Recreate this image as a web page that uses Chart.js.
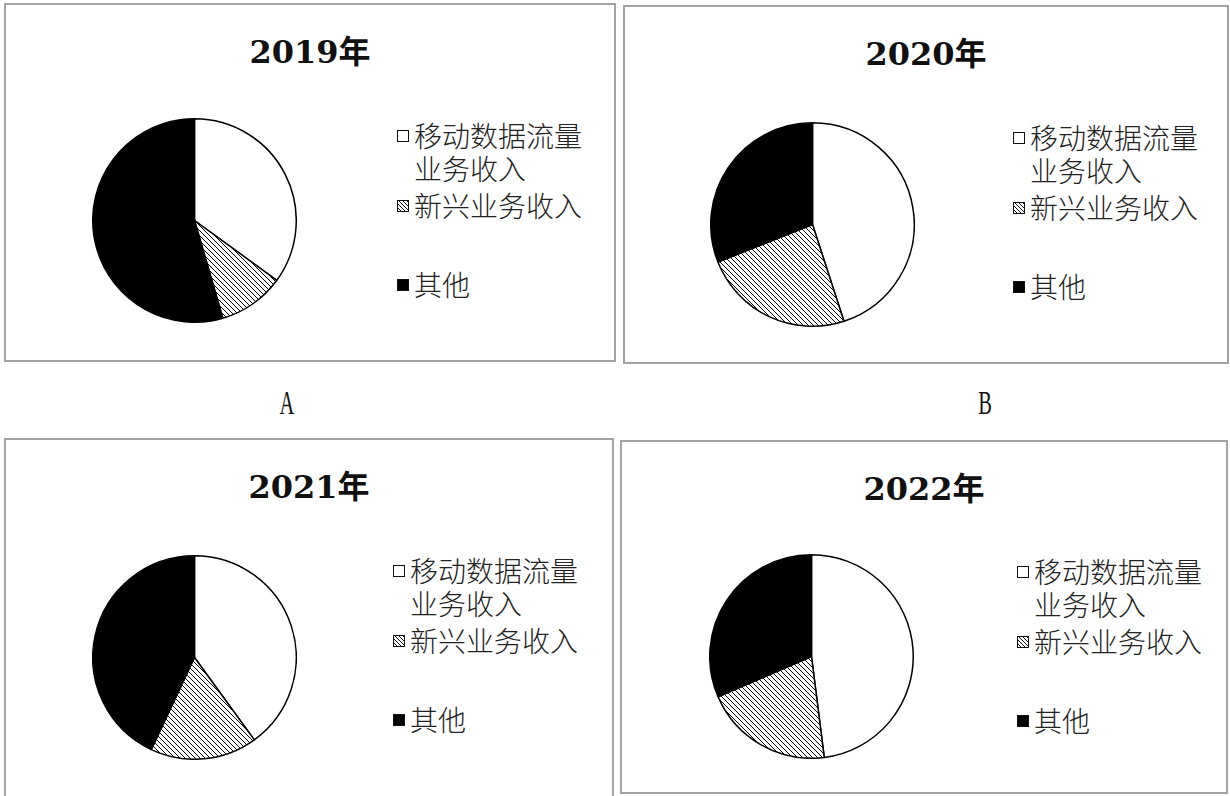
<!DOCTYPE html>
<html>
<head>
<meta charset="utf-8">
<script src="https://cdn.jsdelivr.net/npm/chart.js"></script>
<style>
  body {
    margin: 0;
    width: 1230px;
    height: 796px;
    overflow: hidden;
    position: relative;
    background: #fff;
    font-family: "Noto Sans CJK SC", sans-serif;
  }
  .panel {
    position: absolute;
    box-sizing: border-box;
    border: 2px solid #a3a3a3;
    background: #fff;
  }
  .title {
    position: absolute;
    left: 0;
    right: 0;
    text-align: center;
    font: bold 32px "DejaVu Serif", "Noto Sans CJK SC", serif;
    line-height: 40px;
    color: #111;
  }
  .pie {
    position: absolute;
    width: 205px;
    height: 205px;
  }
  .item {
    position: absolute;
    width: 172px;
    padding-left: 17px;
    font-size: 28px;
    font-weight: 300;
    line-height: 33px;
    color: #222;
  }
  .swatch {
    position: absolute;
    left: 0;
    top: 11px;
    width: 12px;
    height: 12px;
    box-sizing: border-box;
    border: 1.5px solid #111;
  }
  .tag {
    position: absolute;
    width: 40px;
    text-align: center;
    font: 33px "Liberation Serif", serif;
    line-height: 36px;
    transform: scaleX(0.62);
    color: #111;
  }
</style>
</head>
<body>
<script>
// data (percent of total)
const years = ["2019年", "2020年", "2021年", "2022年"];
const categories = ["移动数据流量业务收入", "新兴业务收入", "其他"];
const mobileData = [35, 45, 40, 48];
const emergingData = [10.5, 24, 17, 20.5];
const otherData = [54.5, 31, 43, 31.5];
const panelTags = ["A", "B"];

// layout of the four boxes
const panels = [
  { left: 4, top: 3, width: 612, height: 359, cx: 194, cy: 220, lx: 393, ly: 0 },
  { left: 623, top: 5, width: 606, height: 359, cx: 812, cy: 224, lx: 390, ly: 0 },
  { left: 4, top: 438, width: 610, height: 380, cx: 194, cy: 657, lx: 389, ly: 0 },
  { left: 620, top: 440, width: 608, height: 354, cx: 811, cy: 656, lx: 397, ly: -1 },
];

const makeHatch = () => {
  const s = 5;
  const c = document.createElement("canvas");
  c.width = s;
  c.height = s;
  const g = c.getContext("2d");
  g.fillStyle = "#fff";
  g.fillRect(0, 0, s, s);
  g.strokeStyle = "#000";
  g.lineWidth = 1;
  g.beginPath();
  g.moveTo(0, 0);
  g.lineTo(s, s);
  g.moveTo(-1, s - 1);
  g.lineTo(1, s + 1);
  g.moveTo(s - 1, -1);
  g.lineTo(s + 1, 1);
  g.stroke();
  return g.createPattern(c, "repeat");
};

const hatch = makeHatch();
const swatchBg = [
  "#fff",
  "repeating-linear-gradient(45deg, #fff 0px, #fff 1.6px, #111 1.6px, #111 2.8px)",
  "#000",
];
// vertical position of each legend entry inside the box
const itemTops = [116, 186, 265];

panels.forEach((p, i) => {
  const box = document.createElement("div");
  box.classList.add("panel");
  box.style.left = p.left + "px";
  box.style.top = p.top + "px";
  box.style.width = p.width + "px";
  box.style.height = p.height + "px";
  document.body.appendChild(box);

  const title = document.createElement("div");
  title.classList.add("title");
  title.style.top = "27px";
  title.innerHTML = years[i];
  box.appendChild(title);

  // pie centre given in page coordinates
  const wrap = document.createElement("div");
  wrap.classList.add("pie");
  wrap.style.left = p.cx - p.left - 2 - 102.5 + "px";
  wrap.style.top = p.cy - p.top - 2 - 102.5 + "px";
  const canvas = document.createElement("canvas");
  wrap.appendChild(canvas);
  box.appendChild(wrap);

  categories.forEach((cat, k) => {
    const el = document.createElement("div");
    el.classList.add("item");
    el.style.left = p.lx - 2 + "px";
    el.style.top = itemTops[k] + p.ly - 2 + "px";
    const sw = document.createElement("span");
    sw.classList.add("swatch");
    sw.style.background = swatchBg[k];
    el.appendChild(sw);
    el.appendChild(document.createTextNode(cat));
    box.appendChild(el);
  });

  new Chart(canvas.getContext("2d"), {
    type: "pie",
    data: {
      labels: categories,
      datasets: [
        {
          data: [mobileData[i], emergingData[i], otherData[i]],
          backgroundColor: ["#fff", hatch, "#000"],
          borderColor: "#000",
          borderWidth: 1.5,
        },
      ],
    },
    options: {
      responsive: true,
      maintainAspectRatio: false,
      animation: false,
      events: [],
      layout: { padding: 0 },
      plugins: {
        legend: { display: false },
        tooltip: { enabled: false },
      },
    },
  });
});

const tagPos = [
  { x: 287, y: 403 },
  { x: 985, y: 403 },
];
panelTags.forEach((t, i) => {
  const el = document.createElement("div");
  el.classList.add("tag");
  el.style.left = tagPos[i].x - 20 + "px";
  el.style.top = tagPos[i].y - 18 + "px";
  el.innerHTML = t;
  document.body.appendChild(el);
});
</script>
</body>
</html>
